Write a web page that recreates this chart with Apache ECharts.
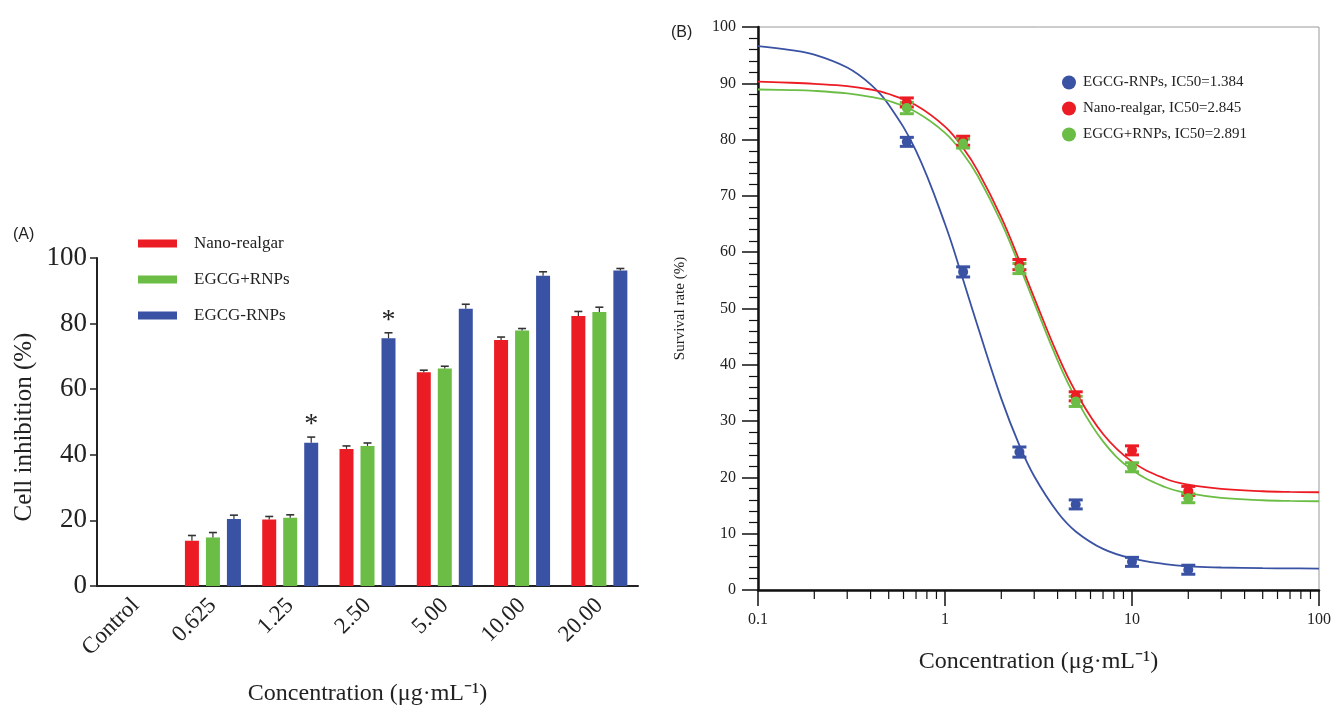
<!DOCTYPE html>
<html><head><meta charset="utf-8">
<script src="https://cdn.jsdelivr.net/npm/echarts/dist/echarts.min.js"></script>
<style>html,body{margin:0;padding:0;background:#fff}#c{width:1337px;height:707px}</style>
</head><body><div id="c"></div>
<script>
// ---------- Panel A data ----------
const categories = ['Control', '0.625', '1.25', '2.50', '5.00', '10.00', '20.00'];
const nanoRealgar = [0, 13.8, 20.3, 41.8, 65.2, 75.0, 82.3];
const nanoRealgarErr = [0, 1.6, 0.9, 0.9, 0.6, 0.9, 1.4];
const egcgPlusRnps = [0, 14.8, 20.8, 42.7, 66.3, 77.9, 83.5];
const egcgPlusRnpsErr = [0, 1.5, 0.9, 0.9, 0.7, 0.6, 1.5];
const egcgRnps = [0, 20.4, 43.7, 75.5, 84.5, 94.6, 96.2];
const egcgRnpsErr = [0, 1.2, 1.7, 1.7, 1.4, 1.2, 0.6];
const significance = ['', '', '*', '*', '', '', ''];
const yTicksA = [0, 20, 40, 60, 80, 100];

// ---------- Panel B data ----------
const concentrations = [0.625, 1.25, 2.5, 5, 10, 20];
const survivalEgcgRnps = [79.6, 56.5, 24.5, 15.2, 5.0, 3.6];
const survivalEgcgRnpsErr = [0.8, 0.9, 0.9, 0.8, 0.8, 0.8];
const survivalNano = [86.6, 79.8, 57.8, 34.4, 24.8, 17.6];
const survivalNanoErr = [0.8, 0.8, 0.9, 0.8, 0.8, 0.8];
const survivalPlus = [85.6, 79.3, 57.1, 33.5, 21.8, 16.3];
const survivalPlusErr = [1.0, 0.8, 0.9, 0.9, 0.8, 0.8];
// fitted curves
const fitX = [0.1, 0.15, 0.2, 0.3, 0.4, 0.5, 0.7, 1, 1.25, 1.5, 2, 2.5, 3, 4, 5, 7, 10, 15, 20, 30, 50, 70, 100];
const fitEgcgRnps = [96.6, 95.9, 95.1, 92.8, 89.8, 86.2, 78.0, 65.0, 55.1, 46.7, 34.0, 25.7, 20.2, 13.8, 10.4, 7.3, 5.6, 4.6, 4.2, 4.0, 3.87, 3.84, 3.81];
const fitNano = [90.3, 90.1, 89.9, 89.5, 88.9, 88.1, 86.1, 82.3, 78.5, 74.4, 66.2, 58.5, 51.9, 41.8, 35.2, 27.7, 22.8, 19.8, 18.7, 17.95, 17.54, 17.42, 17.36];
const fitPlus = [88.9, 88.8, 88.65, 88.2, 87.6, 86.9, 84.9, 81.2, 77.5, 73.5, 65.3, 57.6, 51.0, 40.8, 34.1, 26.4, 21.35, 18.3, 17.2, 16.37, 15.94, 15.82, 15.76];
const legendB = ['EGCG-RNPs, IC50=1.384', 'Nano-realgar, IC50=2.845', 'EGCG+RNPs, IC50=2.891'];
const xMinorTicksB = [0.2, 0.3, 0.4, 0.5, 0.6, 0.7, 0.8, 0.9, 2, 3, 4, 5, 6, 7, 8, 9, 20, 30, 40, 50, 60, 70, 80, 90];

const RED = '#EC1C24', GREEN = '#6CBD45', BLUE = '#3A52A3';
const SERIF = "'Liberation Serif', 'Times New Roman', serif";
const SANS = "'Liberation Sans', Arial, sans-serif";
const TXT = '#222';

function barErr(offset) {
  return function (params, api) {
    const i = api.value(0), v = api.value(1), e = api.value(2);
    if (!e) return;
    const top = api.coord([i, v + e]);
    const base = api.coord([i, v]);
    const x = top[0] + offset;
    return {
      type: 'group', children: [
        { type: 'line', shape: { x1: x, y1: base[1], x2: x, y2: top[1] }, style: { stroke: '#333', lineWidth: 1.2 } },
        { type: 'line', shape: { x1: x - 4, y1: top[1], x2: x + 4, y2: top[1] }, style: { stroke: '#333', lineWidth: 1.6 } }
      ]
    };
  };
}
function pointErr(color) {
  return function (params, api) {
    const x = api.value(0), v = api.value(1), e = api.value(2);
    const hi = api.coord([x, v + e]), lo = api.coord([x, v - e]);
    const px = hi[0];
    return {
      type: 'group', children: [
        { type: 'line', shape: { x1: px, y1: lo[1], x2: px, y2: hi[1] }, style: { stroke: color, lineWidth: 2.5 } },
        { type: 'line', shape: { x1: px - 7, y1: hi[1], x2: px + 7, y2: hi[1] }, style: { stroke: color, lineWidth: 3 } },
        { type: 'line', shape: { x1: px - 7, y1: lo[1], x2: px + 7, y2: lo[1] }, style: { stroke: color, lineWidth: 3 } }
      ]
    };
  };
}
const zip3 = (a, b, c) => a.map((v, i) => [i, b[i], c[i]]);
const zipXY = (xs, ys) => xs.map((x, i) => [x, ys[i]]);
const zipXYE = (xs, ys, es) => xs.map((x, i) => [x, ys[i], es[i]]);

const chart = echarts.init(document.getElementById('c'), null, { renderer: 'canvas' });
const option = {
  backgroundColor: '#fff',
  animation: false,
  title: [
    { text: '(A)', left: 8, top: 222, textStyle: { fontSize: 16, fontWeight: 'normal', fontFamily: SANS, color: TXT } },
    { text: '(B)', left: 666, top: 20, textStyle: { fontSize: 16, fontWeight: 'normal', fontFamily: SANS, color: TXT } }
  ],
  legend: [
    {
      data: ['Nano-realgar', 'EGCG+RNPs', 'EGCG-RNPs'],
      orient: 'vertical', left: 133, top: 230, itemWidth: 39, itemHeight: 8, itemGap: 19,
      icon: 'rect', selectedMode: false,
      textStyle: { fontFamily: SERIF, fontSize: 17, color: TXT, padding: [0, 0, 0, 12] }
    },
    {
      data: legendB,
      orient: 'vertical', left: 1057, top: 70, itemWidth: 14, itemHeight: 14, itemGap: 11,
      icon: 'circle', selectedMode: false,
      itemStyle: { opacity: 1 },
      textStyle: { fontFamily: SERIF, fontSize: 15, color: TXT, padding: [0, 0, 0, 2] }
    }
  ],
  grid: [
    { left: 97, top: 258, width: 541, height: 334, containLabel: false },
    { left: 758, top: 27, width: 561, height: 563, show: true, borderColor: '#999', borderWidth: 1 }
  ],
  xAxis: [
    {
      gridIndex: 0, type: 'category', data: categories, boundaryGap: true,
      axisLine: { lineStyle: { color: '#222', width: 2 } },
      axisTick: { alignWithLabel: true, length: 8, lineStyle: { color: '#222', width: 1.5 } },
      axisLabel: { rotate: 45, fontFamily: SERIF, fontSize: 23, color: TXT, margin: 16, interval: 0 },
      name: 'Concentration (μg·mL⁻¹)', nameLocation: 'middle', nameGap: 96,
      nameTextStyle: { fontFamily: SERIF, fontSize: 24, color: TXT }
    },
    {
      gridIndex: 1, type: 'log', logBase: 10, min: 0.1, max: 100,
      axisLine: { lineStyle: { color: '#111', width: 2.5 } },
      axisTick: { length: 16, lineStyle: { color: '#111', width: 1.5 } },
      axisLabel: { fontFamily: SERIF, fontSize: 16, color: TXT, margin: 22, formatter: v => String(+v.toPrecision(3)) },
      splitLine: { show: false },
      name: 'Concentration (μg·mL⁻¹)', nameLocation: 'middle', nameGap: 60,
      nameTextStyle: { fontFamily: SERIF, fontSize: 24, color: TXT }
    }
  ],
  yAxis: [
    {
      gridIndex: 0, type: 'value', min: 0, max: 100, interval: 20,
      axisLine: { show: true, lineStyle: { color: '#222', width: 2 } },
      axisTick: { show: true, length: 7, lineStyle: { color: '#222', width: 1.5 } },
      axisLabel: { fontFamily: SERIF, fontSize: 27, color: TXT, margin: 10 },
      splitLine: { show: false },
      name: 'Cell inhibition (%)', nameLocation: 'middle', nameGap: 60,
      nameTextStyle: { fontFamily: SERIF, fontSize: 25, color: TXT, padding: [0, 10, 0, 0] }
    },
    {
      gridIndex: 1, type: 'value', min: 0, max: 100, interval: 10,
      axisLine: { show: true, lineStyle: { color: '#111', width: 2.5 } },
      axisTick: { show: true, length: 16, lineStyle: { color: '#111', width: 1.5 } },
      minorTick: { show: true, splitNumber: 5, length: 9, lineStyle: { color: '#111', width: 1.2 } },
      axisLabel: { fontFamily: SERIF, fontSize: 16, color: TXT, margin: 22 },
      splitLine: { show: false },
      name: 'Survival rate (%)', nameLocation: 'middle', nameGap: 70,
      nameTextStyle: { fontFamily: SERIF, fontSize: 15, color: TXT }
    }
  ],
  series: [
    { name: 'Nano-realgar', type: 'bar', xAxisIndex: 0, yAxisIndex: 0, data: nanoRealgar, barWidth: 14, barGap: '50%', itemStyle: { color: RED } },
    { name: 'EGCG+RNPs', type: 'bar', xAxisIndex: 0, yAxisIndex: 0, data: egcgPlusRnps, barWidth: 14, barGap: '50%', itemStyle: { color: GREEN } },
    {
      name: 'EGCG-RNPs', type: 'bar', xAxisIndex: 0, yAxisIndex: 0, data: egcgRnps, barWidth: 14, barGap: '50%', itemStyle: { color: BLUE },
      label: { show: true, position: 'top', distance: 4, formatter: p => significance[p.dataIndex], fontFamily: SERIF, fontSize: 28, color: TXT }
    },
    { type: 'custom', name: 'errA1', xAxisIndex: 0, yAxisIndex: 0, data: zip3(categories, nanoRealgar, nanoRealgarErr), renderItem: barErr(-21), z: 5, encode: { x: 0, y: 1 } },
    { type: 'custom', name: 'errA2', xAxisIndex: 0, yAxisIndex: 0, data: zip3(categories, egcgPlusRnps, egcgPlusRnpsErr), renderItem: barErr(0), z: 5, encode: { x: 0, y: 1 } },
    { type: 'custom', name: 'errA3', xAxisIndex: 0, yAxisIndex: 0, data: zip3(categories, egcgRnps, egcgRnpsErr), renderItem: barErr(21), z: 5, encode: { x: 0, y: 1 } },

    { type: 'line', name: 'fitBlue', xAxisIndex: 1, yAxisIndex: 1, data: zipXY(fitX, fitEgcgRnps), smooth: 0.4, showSymbol: false, lineStyle: { color: BLUE, width: 1.8 }, z: 3 },
    { type: 'line', name: 'fitRed', xAxisIndex: 1, yAxisIndex: 1, data: zipXY(fitX, fitNano), smooth: 0.4, showSymbol: false, lineStyle: { color: RED, width: 1.8 }, z: 3 },
    { type: 'line', name: 'fitGreen', xAxisIndex: 1, yAxisIndex: 1, data: zipXY(fitX, fitPlus), smooth: 0.4, showSymbol: false, lineStyle: { color: GREEN, width: 1.8 }, z: 3 },

    { type: 'custom', name: 'errB1', xAxisIndex: 1, yAxisIndex: 1, data: zipXYE(concentrations, survivalEgcgRnps, survivalEgcgRnpsErr), renderItem: pointErr(BLUE), z: 4, encode: { x: 0, y: 1 } },
    { type: 'custom', name: 'errB2', xAxisIndex: 1, yAxisIndex: 1, data: zipXYE(concentrations, survivalNano, survivalNanoErr), renderItem: pointErr(RED), z: 4, encode: { x: 0, y: 1 } },
    { type: 'custom', name: 'errB3', xAxisIndex: 1, yAxisIndex: 1, data: zipXYE(concentrations, survivalPlus, survivalPlusErr), renderItem: pointErr(GREEN), z: 4, encode: { x: 0, y: 1 } },

    { type: 'scatter', name: legendB[0], xAxisIndex: 1, yAxisIndex: 1, data: zipXY(concentrations, survivalEgcgRnps), symbol: 'circle', symbolSize: 10, itemStyle: { color: BLUE, opacity: 1 }, z: 5 },
    { type: 'scatter', name: legendB[1], xAxisIndex: 1, yAxisIndex: 1, data: zipXY(concentrations, survivalNano), symbol: 'circle', symbolSize: 10, itemStyle: { color: RED, opacity: 1 }, z: 5 },
    { type: 'scatter', name: legendB[2], xAxisIndex: 1, yAxisIndex: 1, data: zipXY(concentrations, survivalPlus), symbol: 'circle', symbolSize: 10, itemStyle: { color: GREEN, opacity: 1 }, z: 5 },

    {
      type: 'custom', name: 'xMinorTicks', xAxisIndex: 1, yAxisIndex: 1, clip: false, silent: true, z: 6,
      data: xMinorTicksB.map(v => [v, 0]), encode: { x: 0, y: 1 },
      renderItem: function (params, api) {
        const p = api.coord([api.value(0), 0]);
        return { type: 'line', shape: { x1: p[0], y1: p[1], x2: p[0], y2: p[1] + 9 }, style: { stroke: '#111', lineWidth: 1.2 } };
      }
    }
  ]
};
chart.setOption(option);
</script>
</body></html>
